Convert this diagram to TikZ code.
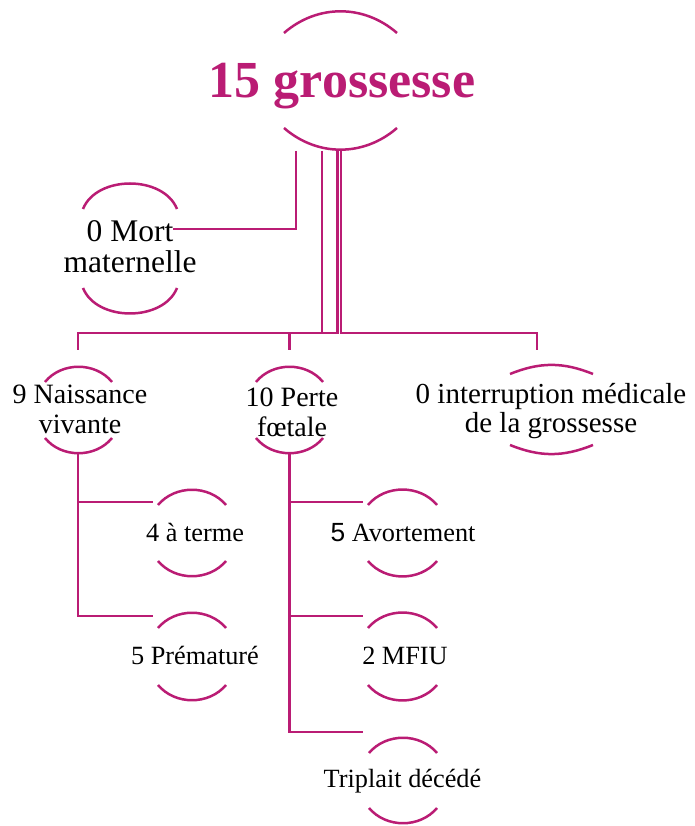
\documentclass[tikz,border=0pt]{standalone}
\usepackage{fontspec}
\setmainfont{Liberation Serif}
\newfontfamily\sansf{Liberation Sans}
\definecolor{mag}{RGB}{186,28,116}
\newcommand\ovalarcs[5]{%
  \draw[arcline] ({#1-#3},{#2+#4}) to[bend left=#5] ({#1+#3},{#2+#4});
  \draw[arcline] ({#1-#3},{#2-#4}) to[bend right=#5] ({#1+#3},{#2-#4});}
\begin{document}
\begin{tikzpicture}[x=1pt,y=1pt,
  conn/.style={draw=mag, line width=2.5pt},
  arcline/.style={draw=mag, line width=2.5pt},
  lbl/.style={inner sep=0pt, align=center, text=black},
  titlefont/.style={font=\fontsize{52}{52}\selectfont\bfseries, text=mag, inner sep=0pt},
  mfont/.style={lbl, font=\fontsize{31.5}{31}\selectfont},
  lvtwo/.style={lbl, font=\fontsize{28}{30}\selectfont},
  lvimg/.style={lbl, font=\fontsize{29}{29}\selectfont},
  lvthree/.style={lbl, anchor=base, font=\fontsize{26.3}{28}\selectfont}]
\useasboundingbox (0,0) rectangle (694,826);
\fill[white] (0,0) rectangle (694,826);

% texts
\node[titlefont, anchor=base] (root) at (342,728) {15 grossesse};
\node[mfont] (mort) at (130,579.1) {0 Mort\\maternelle};
\node[lvtwo] (nais) at (80,417.1) {9 Naissance\\vivante};
\node[lvtwo] (perte) at (292,414) {10 Perte\\fœtale};
\node[lvimg] (img) at (551,415.2) {0 interruption médicale\\de la grossesse};
\node[lvthree] (terme) at (195,284) {4 à terme};
\node[lvthree] (prem) at (195,161) {5 Prématuré};
\node[lvthree] (avort) at (403,284) {{\sansf 5} Avortement};
\node[lvthree] (mfiu) at (405,161) {2 MFIU};
\node[lvthree] (tripl) at (402.5,38) {Triplait décédé};

% arcs around each node
\ovalarcs{340.5}{745.5}{56.5}{47.5}{41}
\ovalarcs{130}{577.5}{47}{39.5}{68}
\ovalarcs{78.5}{416}{33.5}{28}{51}
\ovalarcs{289.5}{416}{33.5}{28}{51}
\ovalarcs{551.5}{416.5}{41.5}{35.5}{22}
\ovalarcs{192}{293}{34}{28}{50}
\ovalarcs{192}{169.5}{34}{28.5}{50}
\ovalarcs{402.5}{293}{34.5}{28}{50}
\ovalarcs{402.5}{169.5}{34.5}{28.5}{50}
\ovalarcs{403}{45.5}{34}{27.5}{50}

% connector anchor points
\coordinate (rootB) at (340.5,675);
\coordinate (mortE) at (173,597);
\coordinate (naisT) at (78,476);
\coordinate (perteT) at (289.5,476);
\coordinate (imgT) at (537,476);
\coordinate (naisB) at (78,373);
\coordinate (perteB) at (289.5,373);
\coordinate (termeW) at (153,324);
\coordinate (premW) at (153,210);
\coordinate (avortW) at (363,324);
\coordinate (mfiuW) at (363,210);
\coordinate (triplW) at (363,94);

% connectors
\draw[conn] ([xshift=-44.5pt]rootB) |- (mortE);
\draw[conn] ([xshift=-18.5pt]rootB) -- ++(0,-182) -| (naisT);
\draw[conn] ([xshift=-3pt]rootB) -- ++(0,-182) -| (perteT);
\draw[conn] ([xshift=0.5pt]rootB) -- ++(0,-182) -| (imgT);
\draw[conn] (naisB) |- (termeW);
\draw[conn] (naisB) |- (premW);
\draw[conn] (perteB) |- (avortW);
\draw[conn] (perteB) |- (mfiuW);
\draw[conn] (perteB) |- (triplW);
\end{tikzpicture}
\end{document}
